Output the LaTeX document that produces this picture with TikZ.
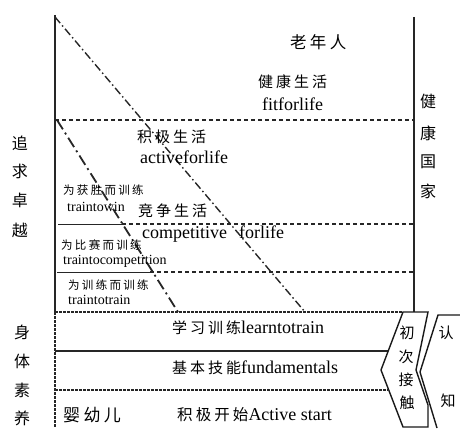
\documentclass[tikz,border=0pt]{standalone}
\usepackage{fontspec}
\setmainfont{Liberation Serif}
\newfontfamily\cjk[LetterSpace=20]{Noto Sans CJK SC}
\begin{document}
\begin{tikzpicture}[x=1pt,y=-1pt,
  frame/.style={line width=1.4pt, black!85},
  dotline/.style={line width=1.5pt, black!85, dash pattern=on 4pt off 3pt},
  boxline/.style={line width=1.1pt, black!85, dash pattern=on 3pt off 1pt},
  thinline/.style={line width=0.8pt, black!85},
  diagA/.style={line width=1.4pt, black!85, dash pattern=on 8pt off 3pt on 1.5pt off 3pt},
  diagB/.style={line width=1.8pt, black!85, dash pattern=on 11pt off 4pt on 2pt off 4pt},
  chev/.style={line width=1.4pt, black!90, line join=miter},
  lab/.style={inner sep=0pt, anchor=west, font=\fontsize{18}{18}\selectfont},
  small/.style={inner sep=0pt, anchor=west, font=\fontsize{14}{14}\selectfont},
  cjklab/.style={inner sep=0pt, anchor=west, font=\fontsize{15}{15}\selectfont\cjk},
  cjksmall/.style={inner sep=0pt, anchor=west, font=\fontsize{11.5}{11.5}\selectfont\cjk},
  vert/.style={inner sep=0pt, font=\fontsize{16}{16}\selectfont\cjk}]
\useasboundingbox (0,0) rectangle (460,428);

% coordinates
\coordinate (Ltop) at (55,15);
\coordinate (Lmid) at (55,312);
\coordinate (Lbot) at (55,428);
\coordinate (Rtop) at (414,17);
\coordinate (Rbot) at (414,312);
\coordinate (h1L) at (55,120);
\coordinate (h1R) at (414,120);
\coordinate (h2a) at (58,224);
\coordinate (h2b) at (122,224);
\coordinate (h2R) at (414,224);
\coordinate (h3a) at (57,272);
\coordinate (h3b) at (150,272);
\coordinate (h3R) at (414,272);
\coordinate (b1L) at (55,312);
\coordinate (b1R) at (403,312);
\coordinate (b2L) at (55,351);
\coordinate (b2R) at (388,351);
\coordinate (b3L) at (55,390);
\coordinate (b3R) at (388,390);
\coordinate (dA1) at (55,17);
\coordinate (dA2) at (305,312);
\coordinate (dB1) at (57,120);
\coordinate (dB2) at (178,312);

% frame lines
\draw[frame] (Ltop) -- (Lmid);
\draw[boxline] (Lmid) -- (Lbot);
\draw[frame] (Rtop) -- (Rbot);

% horizontal levels
\draw[dotline] (h1L) -- (h1R);
\draw[thinline] (h2a) -- (h2b);
\draw[dotline] (h2b) -- (h2R);
\draw[thinline] (h3a) -- (h3b);
\draw[dotline] (h3b) -- (h3R);
\draw[boxline] (b1L) -- (b1R);
\draw[line width=1.2pt, black!85] (b2L) -- (b2R);
\draw[boxline] (b3L) -- (b3R);

% diagonals
\draw[diagA] (dA1) -- (dA2);
\draw[diagB] (dB1) -- (dB2);

% chevrons
\draw[chev] (403,312) -- (428,312) -- (416,370) -- (428,405) -- (428,427) -- (403,427) -- (381,370) -- cycle;
\draw[chev] (461,315) -- (438,315) -- (420,372) -- (437,428);

% texts
\node[cjklab, font=\fontsize{16.5}{16.5}\selectfont\cjk] (old) at (290,42) {老年人};
\node[cjklab] (jk) at (258,82) {健康生活};
\node[lab] (fit) at (262,104) {fitforlife};
\node[cjklab] (jj) at (137,137) {积极生活};
\node[lab] (act) at (140,157) {activeforlife};
\node[cjksmall] (win) at (63,190) {为获胜而训练};
\node[small] (winE) at (67,207) {traintowin};
\node[cjklab] (jz) at (138,211) {竞争生活};
\node[lab] (comp) at (142,234) {competitive\hspace{12pt}forlife};
\node[cjksmall] (bs) at (61,245) {为比赛而训练};
\node[small] (bsE) at (63,261) {traintocompetition};
\node[cjksmall] (xl) at (68,285) {为训练而训练};
\node[small] (xlE) at (68,300) {traintotrain};
\node[lab] (learn) at (172,328) {{\fontsize{15}{15}\selectfont\cjk 学习训练}learntotrain};
\node[lab] (fund) at (172,368) {{\fontsize{15}{15}\selectfont\cjk 基本技能}fundamentals};
\node[cjklab, font=\fontsize{17}{17}\selectfont\cjk] (baby) at (63,415) {婴幼儿};
\node[lab] (start) at (177,415) {{\fontsize{15.5}{15.5}\selectfont\cjk 积极开始}Active start};

% vertical labels
\node[vert] (z1) at (20,143) {追};
\node[vert] (z2) at (20,171) {求};
\node[vert] (z3) at (20,200) {卓};
\node[vert] (z4) at (20,230) {越};
\node[vert] (s1) at (22,332) {身};
\node[vert] (s2) at (22,361) {体};
\node[vert] (s3) at (22,390) {素};
\node[vert] (s4) at (22,418) {养};
\node[vert] (g1) at (428,101) {健};
\node[vert] (g2) at (428,133) {康};
\node[vert] (g3) at (428,162) {国};
\node[vert] (g4) at (428,191) {家};
\node[vert, font=\fontsize{15}{15}\selectfont\cjk] (c1) at (407,333) {初};
\node[vert, font=\fontsize{15}{15}\selectfont\cjk] (c2) at (406,357) {次};
\node[vert, font=\fontsize{15}{15}\selectfont\cjk] (c3) at (406,380) {接};
\node[vert, font=\fontsize{15}{15}\selectfont\cjk] (c4) at (407,403) {触};
\node[vert, font=\fontsize{15}{15}\selectfont\cjk] (r1) at (446,333) {认};
\node[vert, font=\fontsize{15}{15}\selectfont\cjk] (r2) at (448,401) {知};
\end{tikzpicture}
\end{document}
